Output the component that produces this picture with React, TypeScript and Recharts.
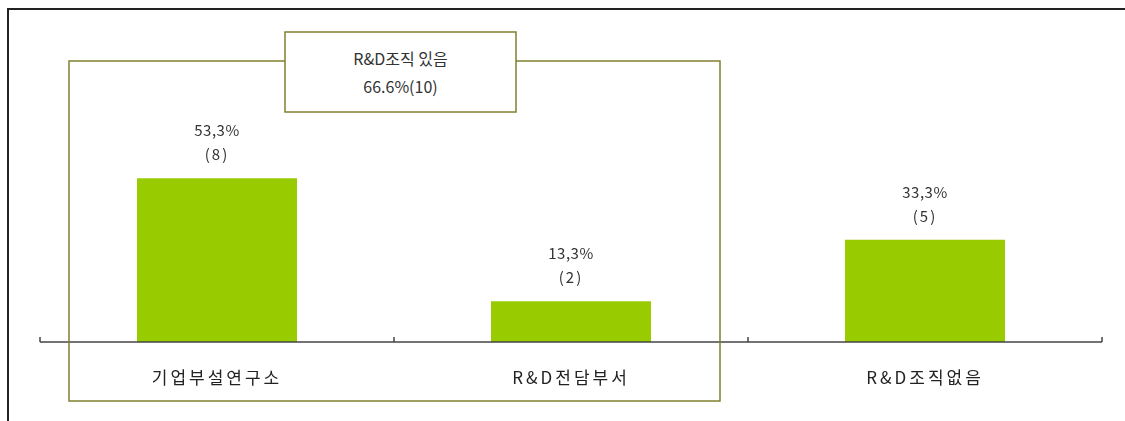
import { BarChart, Bar, XAxis, YAxis, LabelList, ReferenceLine } from 'recharts'

const categories = ['기업부설연구소', 'R&D전담부서', 'R&D조직없음']
const percents = [53.3, 13.3, 33.3]
const counts = [8, 2, 5]
const groupTitle = 'R&D조직 있음'
const groupValue = '66.6%(10)'

const data = categories.map((name, i) => ({ name, pct: percents[i], count: counts[i] }))

const FONT = "'Noto Sans CJK KR', 'Noto Sans', sans-serif"
const OLIVE = '#80802e'
const AXIS = '#444'

function CategoryTick({ x, y, payload }: any) {
  return (
    <text x={x} y={y + 34} textAnchor="middle" fontFamily={FONT} fontSize={17} letterSpacing={3} fill="#222">
      {payload.value}
    </text>
  )
}

function BarValue({ x, y, width, index }: any) {
  const cx = x + width / 2
  const pct = percents[index].toFixed(1).replace('.', ',') + '%'
  return (
    <g fontFamily={FONT} fontSize={15} fill="#333" textAnchor="middle">
      <text x={cx} y={y - 42} letterSpacing={0.5}>{pct}</text>
      <text x={cx} y={y - 18} letterSpacing={2}>({counts[index]})</text>
    </g>
  )
}

export default function App() {
  const last = categories[categories.length - 1]
  return (
    // fixed so the chart never pushes a scrollbar into the 1125x421 window
    <div style={{ position: 'fixed', left: 8, top: 8, width: 1117, height: 413 }}>
      <div
        style={{
          position: 'absolute', left: -1, top: 0, width: 1118, height: 413,
          borderTop: '2px solid #222', borderLeft: '2px solid #222', boxSizing: 'border-box',
        }}
      />
      <BarChart
        width={1117}
        height={413}
        data={data}
        margin={{ top: 27, right: 23, bottom: 29, left: 32 }}
        style={{ position: 'absolute', left: 0, top: 0 }}
      >
        <YAxis hide domain={[0, 100]} />
        <XAxis
          dataKey="name"
          height={50}
          tickLine={false}
          axisLine={{ stroke: AXIS, strokeWidth: 1.5 }}
          tick={<CategoryTick />}
          interval={0}
        />
        {categories.map((c) => (
          <ReferenceLine key={c} segment={[{ x: c, y: 0 }, { x: c, y: 1.6 }]} position="start" stroke={AXIS} strokeWidth={1.5} ifOverflow="visible" />
        ))}
        <ReferenceLine segment={[{ x: last, y: 0 }, { x: last, y: 1.6 }]} position="end" stroke={AXIS} strokeWidth={1.5} ifOverflow="visible" />
        <Bar dataKey="pct" fill="#99cc00" barSize={160} isAnimationActive={false}>
          <LabelList dataKey="pct" content={<BarValue />} />
        </Bar>
      </BarChart>
      <svg width={1117} height={413} style={{ position: 'absolute', left: 0, top: 0, pointerEvents: 'none' }}>
        <rect x={61} y={53} width={651} height={340} fill="none" stroke={OLIVE} strokeWidth={1.5} />
        <rect x={277} y={24} width={231} height={80} fill="#fff" stroke={OLIVE} strokeWidth={1.5} />
        <g fontFamily={FONT} fontSize={16} fill="#333" textAnchor="middle">
          <text x={392.5} y={57}>{groupTitle}</text>
          <text x={392.5} y={85}>{groupValue}</text>
        </g>
      </svg>
    </div>
  )
}
